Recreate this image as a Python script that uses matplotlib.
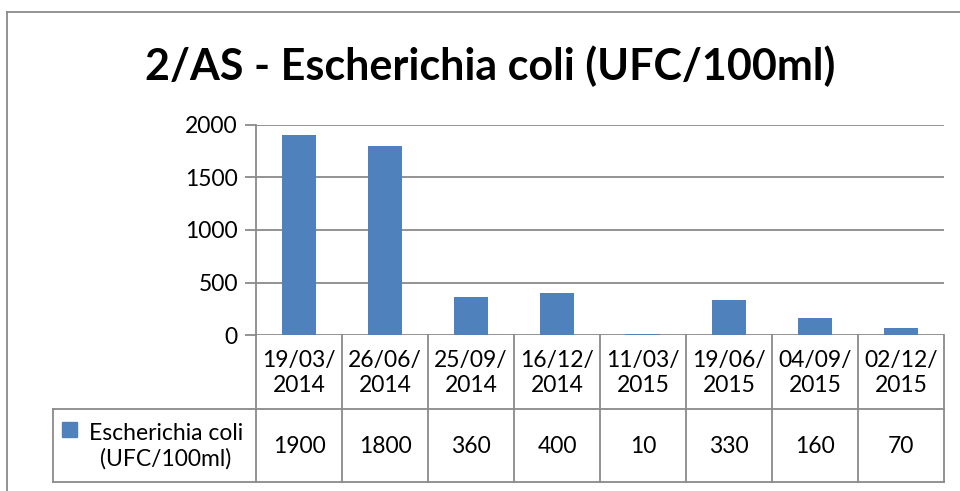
import matplotlib
matplotlib.use("Agg")
import matplotlib.pyplot as plt
from matplotlib.lines import Line2D
from matplotlib.patches import Rectangle

TITLE = "2/AS - Escherichia coli (UFC/100ml)"
SERIES = "Escherichia coli\n(UFC/100ml)"
DATES = ["19/03/\n2014", "26/06/\n2014", "25/09/\n2014", "16/12/\n2014",
         "11/03/\n2015", "19/06/\n2015", "04/09/\n2015", "02/12/\n2015"]
VALUES = [1900, 1800, 360, 400, 10, 330, 160, 70]
YTICKS = [0, 500, 1000, 1500, 2000]

BAR = "#4F81BD"
GRID = "#8A8A8A"
W, H = 960, 491
FS = 16.5

plt.rcParams["font.family"] = ["Lato", "DejaVu Sans"]

fig = plt.figure(figsize=(W / 100, H / 100), dpi=100)


def fx(px):
    return px / W


def fy(py):
    return 1 - py / H


# plot area in pixel units of the reference
L, R, T, B = 256, 944, 125, 335
ROW1, ROW2 = 409, 482
LEG_L = 53

ax = fig.add_axes([fx(L), fy(B), fx(R) - fx(L), fy(T) - fy(B)])
n = len(VALUES)
ax.bar(range(n), VALUES, width=0.4, color=BAR, zorder=3)
ax.set_xlim(-0.5, n - 0.5)
ax.set_ylim(0, 2000)
ax.set_yticks(YTICKS)
ax.set_yticklabels([str(v) for v in YTICKS], fontsize=FS)
ax.set_xticks([])
ax.yaxis.grid(True, color=GRID, linewidth=1.3, zorder=0)
for s in ("top", "right", "bottom"):
    ax.spines[s].set_visible(False)
ax.spines["left"].set_color(GRID)
ax.spines["left"].set_linewidth(1.3)
ax.tick_params(axis="y", length=8, width=1.3, color=GRID, pad=5)

# outer chart border (cropped at right and bottom)
fig.add_artist(Line2D([fx(7), 1.0], [fy(12), fy(12)], color=GRID, lw=1.3))
fig.add_artist(Line2D([fx(7), fx(7)], [fy(12), 0.0], color=GRID, lw=1.3))

fig.text(fx(490), fy(66), TITLE, ha="center", va="center",
         fontsize=31, fontweight="bold")

# data table under the axis
col_w = (R - L) / n


def hline(y, x0, x1):
    fig.add_artist(Line2D([fx(x0), fx(x1)], [fy(y), fy(y)], color=GRID, lw=1.3))


def vline(x, y0, y1):
    fig.add_artist(Line2D([fx(x), fx(x)], [fy(y0), fy(y1)], color=GRID, lw=1.3))


hline(ROW1, LEG_L, R)
hline(ROW2, LEG_L, R)
vline(LEG_L, ROW1, ROW2)
for i in range(n + 1):
    vline(L + i * col_w, B, ROW2)

for i, (d, v) in enumerate(zip(DATES, VALUES)):
    cx = fx(L + (i + 0.5) * col_w)
    fig.text(cx, fy((B + ROW1) / 2 + 1), d, ha="center", va="center",
             fontsize=FS, linespacing=1.2)
    fig.text(cx, fy((ROW1 + ROW2) / 2 + 1), str(v), ha="center", va="center",
             fontsize=FS)

fig.add_artist(Rectangle((fx(62), fy(437)), fx(15), fy(422) - fy(437),
                         color=BAR))
fig.text(fx(166), fy((ROW1 + ROW2) / 2 + 1), SERIES, ha="center", va="center",
         fontsize=FS, linespacing=1.2)

fig.savefig("out.png", dpi=100)
